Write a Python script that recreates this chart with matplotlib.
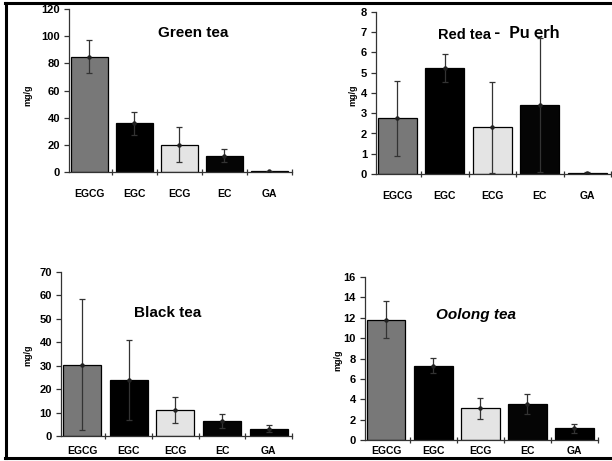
import matplotlib
matplotlib.use('Agg')
import matplotlib.pyplot as plt
from matplotlib.lines import Line2D

cats = ['EGCG', 'EGC', 'ECG', 'EC', 'GA']
bar_colors = ['#787878', '#000000', '#e4e4e4', '#050505', '#000000']

green_vals = [85, 36, 20, 12, 0.5]
green_err = [12, 8.5, 13, 5, 0.5]
red_vals = [2.75, 5.25, 2.3, 3.4, 0.05]
red_err = [1.85, 0.7, 2.25, 3.3, 0.05]
black_vals = [30.5, 24, 11, 6.5, 3]
black_err = [28, 17, 5.5, 3, 1.5]
oolong_vals = [11.8, 7.3, 3.1, 3.55, 1.15]
oolong_err = [1.8, 0.75, 1.0, 0.95, 0.45]

W, H = 612, 461
plt.rcParams['font.family'] = ['Liberation Sans', 'DejaVu Sans']
fig = plt.figure(figsize=(W / 100, H / 100), dpi=100)


def px_axes(left, right, top, bottom):
    return fig.add_axes([left / W, (H - bottom) / H, (right - left) / W, (bottom - top) / H])


def panel(ax, vals, err, ymax, ystep, pad=12):
    x = list(range(len(cats)))
    ax.bar(x, vals, width=0.82, color=bar_colors, edgecolor='black', linewidth=0.9, zorder=2)
    ax.errorbar(x, vals, yerr=err, fmt='o', ms=2.2, color='#222222', ecolor='#333333',
                elinewidth=0.9, capsize=2, capthick=0.9, zorder=3)
    ax.set_xlim(-0.45, 4.5)
    ax.set_ylim(0, ymax)
    ax.set_yticks(range(0, ymax + 1, ystep))
    ax.set_xticks(x)
    ax.set_xticklabels(cats, fontsize=7.5, fontweight='bold')
    ax.set_xticks([i + 0.5 for i in x], minor=True)
    ax.tick_params(axis='x', which='major', length=0, pad=pad)
    ax.tick_params(axis='x', which='minor', direction='inout', length=5, width=0.9, color='#333333')
    ax.tick_params(axis='y', direction='out', length=3.5, width=0.9, color='#333333',
                   labelsize=8, pad=3)
    for lab in ax.get_yticklabels():
        lab.set_fontweight('bold')
    for s in ['top', 'right']:
        ax.spines[s].set_visible(False)
    for s in ['left', 'bottom']:
        ax.spines[s].set_linewidth(0.9)
        ax.spines[s].set_color('#333333')
    ax.set_facecolor('none')


ax1 = px_axes(69, 292, 9, 172)
panel(ax1, green_vals, green_err, 120, 20)
ax2 = px_axes(376, 611, 12, 174)
panel(ax2, red_vals, red_err, 8, 1)
ax3 = px_axes(61, 292, 272, 436)
panel(ax3, black_vals, black_err, 70, 10, pad=7)
ax4 = px_axes(365, 598, 277, 440)
panel(ax4, oolong_vals, oolong_err, 16, 2, pad=4.5)


def ftext(xp, yp, s, **kw):
    fig.text(xp / W, (H - yp) / H, s, **kw)


ftext(193, 33, 'Green tea', fontsize=11, fontweight='bold', ha='center', va='center')
ftext(491, 35, 'Red tea', fontsize=10.5, fontweight='bold', ha='right', va='center')
ftext(494, 33, '-  Pu erh', fontsize=12.5, fontweight='bold', ha='left', va='center',
      family=['Lato', 'DejaVu Sans'])
ftext(168, 313, 'Black tea', fontsize=11, fontweight='bold', ha='center', va='center')
ftext(476, 315, 'Oolong tea', fontsize=11, fontweight='bold', style='italic',
      ha='center', va='center')

for xp, yp in [(28, 95), (353, 95), (28, 355), (338, 360)]:
    ftext(xp, yp, 'mg/g', fontsize=6.5, fontweight='bold', rotation=90, ha='center', va='center')

# scanned frame around the figure
frame_kw = dict(color='black', linewidth=2.2, transform=fig.transFigure)
fig.add_artist(Line2D([6 / W, 6 / W], [(H - 3.5) / H, (H - 457.5) / H], **frame_kw))
fig.add_artist(Line2D([5 / W, 1.0], [(H - 3.5) / H, (H - 3.5) / H], **frame_kw))
fig.add_artist(Line2D([5 / W, 1.0], [(H - 457.5) / H, (H - 457.5) / H], **frame_kw))

fig.savefig('out.png', dpi=100)
